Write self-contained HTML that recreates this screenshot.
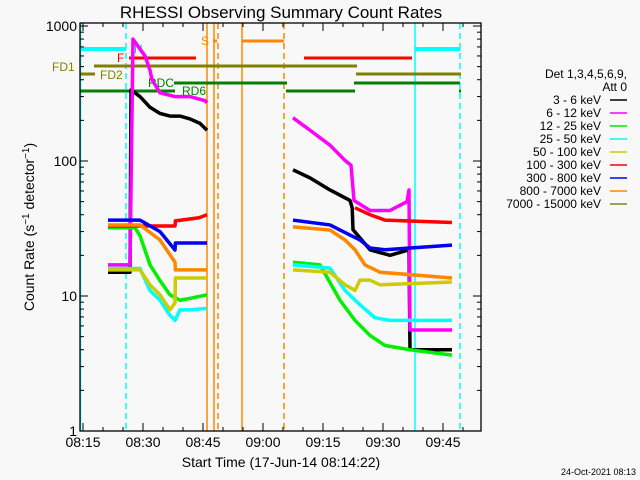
<!DOCTYPE html>
<html><head><meta charset="utf-8">
<style>
html,body{margin:0;padding:0;background:#f8f8f8;}
svg{display:block;font-family:"Liberation Sans",sans-serif;}
</style></head>
<body>
<svg id="c" width="640" height="480" viewBox="0 0 640 480" xmlns="http://www.w3.org/2000/svg">
<rect x="0" y="0" width="640" height="480" fill="#f8f8f8"/>
<text x="281" y="18" text-anchor="middle" font-size="17" fill="#000">RHESSI Observing Summary Count Rates</text>
<g id="overlay"></g>
<g id="series"></g>
<g id="axes"></g>
<text transform="translate(34,227) rotate(-90)" text-anchor="middle" font-size="14" fill="#000">Count Rate (s<tspan baseline-shift="super" font-size="10">−1</tspan> detector<tspan baseline-shift="super" font-size="10">−1</tspan>)</text>
<text x="281" y="467" text-anchor="middle" font-size="14" fill="#000">Start Time (17-Jun-14 08:14:22)</text>
<text x="636" y="475" text-anchor="end" font-size="9" fill="#000">24-Oct-2021 08:13</text>
<g id="legend"></g>
</svg>
<script>
// time in minutes after 08:15
const xTickLabels = ["08:15","08:30","08:45","09:00","09:15","09:30","09:45"];
const xTickTimes = [0,15,30,45,60,75,90];
const yTickValues = [1,10,100,1000];
const yTickLabels = ["1","10","100","1000"];
const seriesNames = ["3 - 6 keV","6 - 12 keV","12 - 25 keV","25 - 50 keV","50 - 100 keV","100 - 300 keV","300 - 800 keV","800 - 7000 keV","7000 - 15000 keV"];
const seriesColors = ["#000000","#ff00ff","#00ee00","#00ffff","#cccc00","#ff0000","#0000ee","#ff8800","#808020"];
const s36 = [[[6.25,15],[11.75,15],[12,336],[14.25,300],[16.75,250],[19.25,225],[21.75,215],[24.25,215],[26.75,205],[29.25,190],[31,169]],
  [[52.5,86],[56.75,75],[61.75,61],[66.75,51],[67.3,45],[67.5,31],[71.75,22],[76.75,20],[81.5,22],[81.75,4],[92.25,4]]];
const s612 = [[[6.25,17],[11.75,17],[12.5,800],[15.5,600],[16.75,470],[17.25,400],[19.25,320],[23,300],[26.75,300],[30.5,280],[31,270]],
  [[52.5,209],[56.75,169],[61.75,131],[65.5,101],[67,93],[67.75,51],[71.75,43],[76.75,43],[81,50],[81.5,61],[81.75,5.6],[92.25,5.6]]];
const s1225 = [[[6.25,32],[13,32],[14.25,28],[16.75,17],[19.25,13],[21.75,10.2],[24.25,9.3],[26.75,9.6],[31,10.2]],
  [[52.5,17.8],[59.25,17],[64.25,9.3],[68,6.6],[71.75,5.1],[75.5,4.3],[81.75,4.0],[92.25,3.65]]];
const s2550 = [[[6.25,16],[14.25,16],[16.75,11],[19.25,9.3],[21.75,7.2],[23,6.6],[24.25,7.9],[26.75,7.9],[31,8.1]],
  [[52.5,17],[61.75,16.1],[65.5,11],[69.25,8.6],[73,6.9],[76.75,6.6],[92.25,6.6]]];
const s50100 = [[[6.25,15.6],[14.25,15.6],[16.75,12.1],[19.25,10.2],[21.75,7.9],[23,8.9],[23.1,13.6],[31,13.6]],
  [[52.5,15.6],[61.75,15],[65.5,12.1],[68,11],[69.25,13.1],[71.75,13.1],[74.25,12.1],[92.25,12.7]]];
const s100300 = [[[6.25,33],[23,33],[23.1,36],[29,38],[31,40]],
  [[68,45],[71.75,40],[75.5,36.5],[92.25,35]]];
const s300800 = [[[6.25,36.5],[14.25,36.5],[19.25,30],[23,21.9],[23.1,24.7],[31,24.7]],
  [[52.5,36.5],[61.75,33.6],[66.75,28.3],[69.25,26],[71.75,22.7],[75.5,22],[92.25,23.8]]];
const s8007000 = [[[6.25,33.6],[14.25,33.6],[19.25,26],[23,17.8],[23.1,15.6],[31,15.6]],
  [[52.5,32.5],[61.75,30.8],[65.5,26],[68,22],[70.5,17],[74.25,15],[92.25,13.6]]];
const s700015000 = [];
const allSeries = [s36,s612,s1225,s2550,s50100,s100300,s300800,s8007000,s700015000];

const NS="http://www.w3.org/2000/svg";
const X0=83, PXM=4, Y1=431, DEC=135, L=80, R=481, T=23, B=431;
function xs(t){return X0+PXM*t;}
function ys(v){return Y1-DEC*Math.log10(v);}
function mk(tag,attrs,parent){const e=document.createElementNS(NS,tag);for(const k in attrs)e.setAttribute(k,attrs[k]);parent.appendChild(e);return e;}
const ov=document.getElementById('overlay'), sg=document.getElementById('series'), ax=document.getElementById('axes'), lg=document.getElementById('legend');

const vlines=[[-0.63,"#00ffff",""],[10.75,"#00ffff","6,4"],[83,"#00ffff",""],[94.25,"#00ffff","6,4"],
  [31,"#ff8800",""],[32.75,"#ff8800",""],[33.75,"#ff8800","6,4"],[39.75,"#ff8800",""],[50.25,"#ff8800","6,4"]];
vlines.forEach(v=>{const e=mk('line',{x1:xs(v[0]),x2:xs(v[0]),y1:T,y2:B,stroke:v[1],'stroke-width':1.5,'stroke-dasharray':v[2]},ov);

});
const bars=[[-0.63,10.75,49,"#00ffff",4],[83,94.25,49,"#00ffff",4],[32.5,33.5,41,"#ff8800",3],[39.75,50.25,41,"#ff8800",3],
  [11.5,28.25,58,"#ff0000",3],[55.25,82.25,58,"#ff0000",3],[2.75,68.5,66,"#808000",3],[68.25,94.5,74,"#808000",3],
  [-0.63,3,74,"#808000",3],[22.75,51,83,"#008000",3],[67.75,94.25,83,"#008000",3],[-0.63,23,91,"#008000",3],[50.75,68,91,"#008000",3],[94,94.5,91,"#008000",3]];
bars.forEach(b=>{const e=mk('line',{x1:xs(b[0]),x2:xs(b[1]),y1:b[2],y2:b[2],stroke:b[3],'stroke-width':b[4]},ov);

});
const flabels=[[52,71,"FD1","#808000"],[100,79,"FD2","#808000"],[117,62,"F","#ff0000"],[201,45,"S","#ff8800"],[148,87,"RDC","#008000"],[182,95,"RD6","#008000"],[134,53,"N","#00cccc"]];
flabels.forEach(f=>{const e=mk('text',{x:f[0],y:f[1],fill:f[3],'font-size':12},ov);e.textContent=f[2];

});

allSeries.forEach((segs,i)=>{segs.forEach(seg=>{
  let d="";seg.forEach((p,j)=>{const x=xs(p[0]),y=ys(p[1]);
    d+=(j===0?"M":" L")+x+" "+y;});
  const e=mk('path',{d:d,fill:'none',stroke:seriesColors[i],'stroke-width':3.5,'stroke-linejoin':'round'},sg);
  
  
});});

const fr=mk('rect',{x:L,y:T,width:R-L,height:B-T,fill:'none',stroke:'#000','stroke-width':1.3},ax);


for(let t=0;t<=95;t+=5){const x=xs(t);if(x>R)break;const len=(t%15===0)?8:4;
  mk('line',{x1:x,x2:x,y1:B,y2:B-len,stroke:'#000'},ax);mk('line',{x1:x,x2:x,y1:T,y2:T+len,stroke:'#000'},ax);}
xTickTimes.forEach((t,i)=>{const e=mk('text',{x:xs(t),y:447,'text-anchor':'middle','font-size':14,fill:'#000'},ax);e.textContent=xTickLabels[i];

});
for(let dec=0;dec<4;dec++){for(let m=1;m<10;m++){const v=m*Math.pow(10,dec);const y=ys(v);if(y<T)break;const len=m===1?8:4;
  mk('line',{x1:L,x2:L+len,y1:y,y2:y,stroke:'#000'},ax);mk('line',{x1:R,x2:R-len,y1:y,y2:y,stroke:'#000'},ax);}}
yTickValues.forEach((v,i)=>{const e=mk('text',{x:77,y:ys(v)+5,'text-anchor':'end','font-size':14,fill:'#000'},ax);e.textContent=yTickLabels[i];

});

const h1=mk('text',{x:627,y:78,'text-anchor':'end','font-size':12,fill:'#000'},lg);h1.textContent="Det 1,3,4,5,6,9,";


const h2=mk('text',{x:627,y:91,'text-anchor':'end','font-size':12,fill:'#000'},lg);h2.textContent="Att 0";


seriesNames.forEach((n,i)=>{const y=100+13*i;
  const t=mk('text',{x:601,y:y+4,'text-anchor':'end','font-size':12,fill:'#000'},lg);t.textContent=n;
  
  
  const l=mk('line',{x1:610,x2:627,y1:y,y2:y,stroke:seriesColors[i],'stroke-width':1.5},lg);
  
  });
</script>
</body></html>
